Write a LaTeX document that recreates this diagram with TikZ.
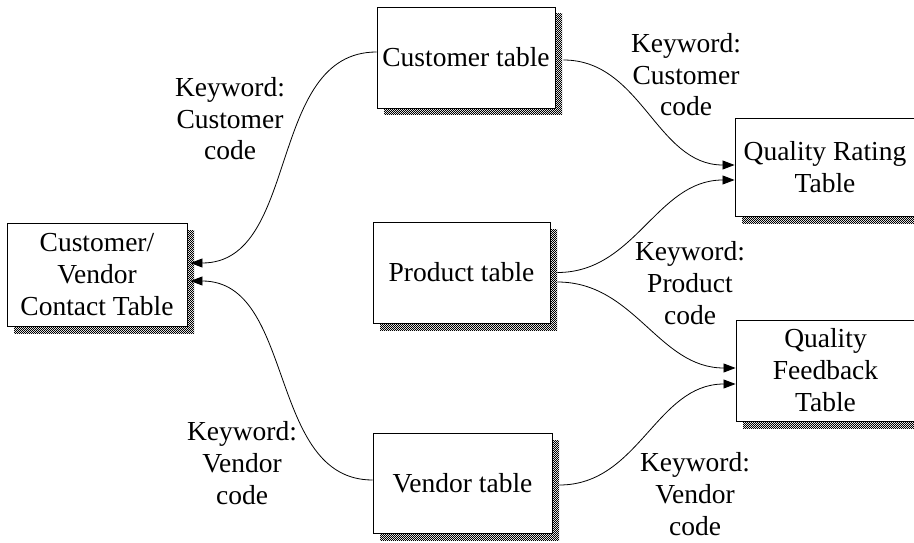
\documentclass[tikz,border=0pt]{standalone}
\usepackage{fontspec}
\setmainfont{Liberation Serif}
\usetikzlibrary{arrows.meta,shadows,patterns.meta}

% fine dither used for the table shadows
\tikzdeclarepattern{
  name=finechecker,
  type=uncolored,
  bottom left={(0pt,0pt)},
  top right={(2.4pt,2.4pt)},
  tile size={(2.4pt,2.4pt)},
  code={
    \pgfpathrectangle{\pgfpointorigin}{\pgfpoint{1.2pt}{1.2pt}}
    \pgfpathrectangle{\pgfpoint{1.2pt}{1.2pt}}{\pgfpoint{1.2pt}{1.2pt}}
    \pgfusepath{fill}
  }
}

\begin{document}
\begin{tikzpicture}[x=1pt,y=-1pt,
  txt/.style={font={\fontsize{27.5}{32}\selectfont}, align=center},
  tablebox/.style={txt, draw=black, line width=0.9pt, fill=white, inner sep=0pt,
    drop shadow={shadow xshift=7pt, shadow yshift=-7pt, fill=black!25,
      pattern=finechecker, pattern color=black, opacity=1}},
  keylabel/.style={txt, anchor=base, inner sep=0pt},
  link/.style={line width=0.8pt, -{Triangle[length=12pt,width=9pt]}}
]
\useasboundingbox (0,0) rectangle (914,543);

% tables
\node[tablebox, minimum width=180pt, minimum height=103pt] (cv)   at (97,274.5)  {Customer/\\Vendor\\Contact Table};
\node[tablebox, minimum width=178pt, minimum height=101pt] (cust) at (466,57.5)  {Customer table};
\node[tablebox, minimum width=177pt, minimum height=101pt] (prod) at (461.5,272.5) {Product table};
\node[tablebox, minimum width=179pt, minimum height=100pt] (vend) at (462.5,483) {Vendor table};
\node[tablebox, minimum width=180pt, minimum height=98pt]  (qr)   at (825,167)   {Quality Rating\\Table};
\node[tablebox, minimum width=179pt, minimum height=101pt] (qf)   at (825.5,370.5) {Quality\\Feedback\\Table};

% key labels (placed by the baseline of their last line)
\node[keylabel] (k1) at (230,160) {Keyword:\\Customer\\code};
\node[keylabel] (k2) at (686,116) {Keyword:\\Customer\\code};
\node[keylabel] (k3) at (690,324) {Keyword:\\Product\\code};
\node[keylabel] (k4) at (242,504) {Keyword:\\Vendor\\code};
\node[keylabel] (k5) at (695,535) {Keyword:\\Vendor\\code};

% links between tables
\draw[link] ([yshift=5.5pt]cust.west) to[out=180,in=0] ([xshift=3pt,yshift=11.5pt]cv.east);
\draw[link] ([yshift=3pt]vend.west) to[out=180,in=0] ([xshift=3pt,yshift=-6.5pt]cv.east);
\draw[link] ([xshift=8pt,yshift=-2.5pt]cust.east) to[out=0,in=180] ([yshift=2pt]qr.west);
\draw[link] ([xshift=7pt]prod.east) to[out=0,in=180] ([yshift=-13pt]qr.west);
\draw[link] ([xshift=7pt,yshift=-9.5pt]prod.east) to[out=0,in=180] ([yshift=2.5pt]qf.west);
\draw[link] ([xshift=7pt,yshift=-2pt]vend.east) to[out=0,in=180] ([yshift=-13.5pt]qf.west);
\end{tikzpicture}
\end{document}
